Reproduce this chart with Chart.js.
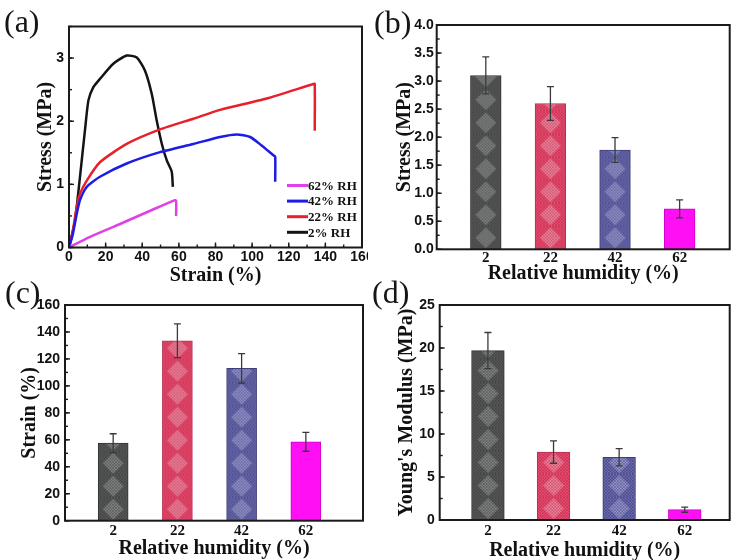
<!DOCTYPE html>
<html>
<head>
<meta charset="utf-8">
<script src="https://cdn.jsdelivr.net/npm/chart.js@4.4.0/dist/chart.umd.min.js"></script>
<style>
  body { margin: 0; background: #fff; }
  #wrap { position: relative; width: 736px; height: 560px; overflow: hidden; background: #fff; }
  .pane { position: absolute; overflow: hidden; }
  .tag { position: absolute; font-family: "Liberation Serif", "Times New Roman", serif; font-size: 32px; color: #151515; line-height: 1; }
</style>
</head>
<body>
<div id="wrap">
  <div class="pane" style="left:0;top:0;width:368px;height:290px"><canvas id="chartA" width="385" height="290"></canvas></div>
  <div class="pane" style="left:368px;top:0;width:368px;height:290px"><canvas id="chartB" width="368" height="290"></canvas></div>
  <div class="pane" style="left:0;top:280px;width:368px;height:290px"><canvas id="chartC" width="368" height="290"></canvas></div>
  <div class="pane" style="left:368px;top:280px;width:368px;height:290px"><canvas id="chartD" width="368" height="290"></canvas></div>
  <span class="tag" style="left:4px;top:5px">(a)</span>
  <span class="tag" style="left:374px;top:6px">(b)</span>
  <span class="tag" style="left:5px;top:276px">(c)</span>
  <span class="tag" style="left:372px;top:276px">(d)</span>
</div>
<script>
'use strict';

// (a) stress-strain curves, one pair of arrays per humidity
const strainRH62 = [0, 10, 30, 45, 57.9, 58.5, 58.5];
const stressRH62 = [0, 0.15, 0.4, 0.59, 0.75, 0.74, 0.5];
const strainRH42 = [0, 2, 4, 6, 9.7, 16.9, 31.5, 49.7, 67.9, 82.5, 91.6, 98.9, 105, 111.6, 112.6, 112.6];
const stressRH42 = [0, 0.2, 0.5, 0.75, 0.96, 1.12, 1.33, 1.51, 1.64, 1.75, 1.79, 1.75, 1.62, 1.46, 1.44, 1.04];
const strainRH22 = [0, 2, 4.2, 6, 9.7, 16.9, 31.5, 49.7, 67.9, 82.5, 108, 133.5, 134.2, 134.2];
const stressRH22 = [0, 0.25, 0.64, 0.85, 1.06, 1.35, 1.64, 1.87, 2.04, 2.18, 2.36, 2.59, 2.59, 1.85];
const strainRH2  = [0, 3.3, 6, 8.7, 10.6, 13.3, 16.9, 24.2, 31.5, 37, 41.5, 45.2, 47.9, 50.7, 53.4, 56.1, 56.7];
const stressRH2  = [0, 0.43, 1.12, 1.85, 2.33, 2.54, 2.67, 2.91, 3.04, 3.01, 2.8, 2.43, 2.01, 1.64, 1.38, 1.2, 0.96];

// (b)(c)(d) bar panels
const humidity    = [2, 22, 42, 62];
const stressMean  = [3.1, 2.6, 1.77, 0.72];
const stressErr   = [0.33, 0.3, 0.22, 0.16];
const strainMean  = [57.5, 133.5, 113, 58.5];
const strainErr   = [7, 12.5, 11, 7];
const modulusMean = [19.7, 7.9, 7.3, 1.2];
const modulusErr  = [2.1, 1.3, 1.0, 0.3];

// tick labels
const strainTicksA  = [0, 20, 40, 60, 80, 100, 120, 140, 160];
const stressTicksA  = [0, 1, 2, 3];
const stressTicksB  = [0, 0.5, 1, 1.5, 2, 2.5, 3, 3.5, 4];
const strainTicksC  = [0, 20, 40, 60, 80, 100, 120, 140, 160];
const modulusTicksD = [0, 5, 10, 15, 20, 25];

const SANS = "'Liberation Sans', Arial, sans-serif";
const SERIF = "'Liberation Serif', 'Times New Roman', serif";

function pairs(xs, ys) {
  return xs.map((x, i) => ({ x: x, y: ys[i] }));
}

// box with inward ticks, drawn like the original plot frame
const frame = {
  id: 'frame',
  afterDraw(chart, args, o) {
    const { ctx, chartArea: a, scales } = chart;
    ctx.save();
    ctx.strokeStyle = '#1a1a1a';
    ctx.lineWidth = 1.4;
    const mark = (s, v, len) => {
      const p = s.getPixelForValue(v);
      ctx.beginPath();
      if (s.axis === 'x') { ctx.moveTo(p, a.bottom); ctx.lineTo(p, a.bottom - len); }
      else { ctx.moveTo(a.left, p); ctx.lineTo(a.left + len, p); }
      ctx.stroke();
    };
    ['x', 'y'].forEach(id => {
      const s = scales[id];
      const step = o[id + 'Minor'];
      if (o[id + 'Major'] !== false) s.ticks.forEach(t => mark(s, t.value, 5));
      if (step) {
        for (let v = s.min; v <= s.max + 1e-9; v += step) mark(s, v, 3);
      }
    });
    ctx.lineWidth = 2;
    ctx.strokeRect(a.left, a.top, a.width, a.height);
    ctx.restore();
  }
};

// key for the curves, lower right of the plot
const curveKey = {
  id: 'curveKey',
  afterDraw(chart) {
    const { ctx, chartArea: a } = chart;
    ctx.save();
    ctx.font = 'bold 13px ' + SERIF;
    ctx.textBaseline = 'middle';
    ctx.fillStyle = '#111';
    chart.data.datasets.forEach((ds, i) => {
      const y = a.bottom - 62 + i * 15.6;
      ctx.strokeStyle = ds.borderColor;
      ctx.lineWidth = 3;
      ctx.beginPath();
      ctx.moveTo(a.right - 75, y);
      ctx.lineTo(a.right - 54, y);
      ctx.stroke();
      ctx.fillText(ds.label, a.right - 54, y + 1);
    });
    ctx.restore();
  }
};

// error bars from the scale pixels
const errBars = {
  id: 'errBars',
  afterDatasetsDraw(chart, args, o) {
    const { ctx } = chart;
    const ys = chart.scales.y;
    const meta = chart.getDatasetMeta(0);
    const vals = chart.data.datasets[0].data;
    ctx.save();
    ctx.strokeStyle = '#3a3a3a';
    ctx.lineWidth = 1.3;
    meta.data.forEach((el, i) => {
      const v = vals[i].y, e = o.err[i];
      const top = ys.getPixelForValue(v + e);
      const bot = ys.getPixelForValue(v - e);
      ctx.beginPath();
      ctx.moveTo(el.x, top); ctx.lineTo(el.x, bot);
      ctx.moveTo(el.x - 3.5, top); ctx.lineTo(el.x + 3.5, top);
      ctx.moveTo(el.x - 3.5, bot); ctx.lineTo(el.x + 3.5, bot);
      ctx.stroke();
    });
    ctx.restore();
  }
};

// keep every hatch pattern anchored to its own bar
const anchorHatch = {
  id: 'anchorHatch',
  beforeDatasetsDraw(chart) {
    const meta = chart.getDatasetMeta(0);
    const fills = chart.data.datasets[0].backgroundColor;
    meta.data.forEach((el, i) => {
      const p = fills[i];
      if (p && typeof p.setTransform === 'function') {
        p.setTransform(new DOMMatrix().translate(el.x - el.width / 2, el.base));
      }
    });
  }
};

function hatch(ctx, base, light, line, w) {
  const c = document.createElement('canvas');
  const h = 23;
  c.width = Math.round(w); c.height = h;
  const g = c.getContext('2d');
  g.fillStyle = base;
  g.fillRect(0, 0, c.width, h);
  const cx = c.width / 2;
  g.beginPath();
  g.moveTo(cx, 1); g.lineTo(cx + 10.5, h / 2); g.lineTo(cx, h - 1); g.lineTo(cx - 10.5, h / 2);
  g.closePath();
  g.fillStyle = light;
  g.fill();
  g.strokeStyle = line;
  g.lineWidth = 0.7;
  for (let k = -40; k < 70; k += 3) {
    g.beginPath(); g.moveTo(k, 0); g.lineTo(k + h, h); g.stroke();
    g.beginPath(); g.moveTo(k, h); g.lineTo(k + h, 0); g.stroke();
  }
  return ctx.createPattern(c, 'repeat');
}

function boxAxes(box) {
  return {
    x: {
      type: 'linear',
      offset: false,
      min: box.xMin, max: box.xMax,
      afterBuildTicks: s => { s.ticks = box.xTicks.map(v => ({ value: v })); },
      afterFit: s => { s.height = box.H - box.B; },
      grid: { display: false, drawTicks: false },
      border: { display: false },
      ticks: {
        padding: box.xTickPad,
        color: '#111',
        maxRotation: 0,
        autoSkip: false,
        font: box.xTickFont,
        callback: v => String(v)
      },
      title: {
        display: true,
        text: box.xTitle,
        color: '#111',
        font: { family: SERIF, size: 20, weight: 'bold' },
        padding: { top: 0, bottom: box.xTitlePad }
      }
    },
    y: {
      type: 'linear',
      min: 0, max: box.yMax,
      afterBuildTicks: s => { s.ticks = box.yTicks.map(v => ({ value: v })); },
      afterFit: s => { s.width = box.L; },
      grid: { display: false, drawTicks: false },
      border: { display: false },
      ticks: {
        padding: box.yTickPad,
        color: '#111',
        autoSkip: false,
        font: { family: SANS, size: 14, weight: 'bold' },
        callback: box.yFmt
      },
      title: {
        display: true,
        text: box.yTitle,
        color: '#111',
        font: { family: SERIF, size: 20, weight: 'bold' },
        padding: { top: box.yTitlePad, bottom: 0 }
      }
    }
  };
}

function layoutOf(box) {
  return { padding: { left: 0, bottom: 0, top: box.T, right: box.W - box.R } };
}

// (a)
const boxA = {
  W: 385, H: 290, L: 69, T: 26.5, R: 362, B: 247.5,
  xMin: 0, xMax: 160, xTicks: strainTicksA, yMax: 3.5, yTicks: stressTicksA,
  xTickPad: 1, yTickPad: 5, xTitlePad: 2.5, yTitlePad: 33.5,
  xTickFont: { family: SANS, size: 14, weight: 'bold' },
  xTitle: 'Strain (%)', yTitle: 'Stress (MPa)',
  yFmt: v => String(v)
};

new Chart(document.getElementById('chartA'), {
  type: 'line',
  data: {
    datasets: [
      { label: '62% RH', data: pairs(strainRH62, stressRH62), borderColor: '#e040e8' },
      { label: '42% RH', data: pairs(strainRH42, stressRH42), borderColor: '#1c1ce6' },
      { label: '22% RH', data: pairs(strainRH22, stressRH22), borderColor: '#e8202c' },
      { label: '2% RH', data: pairs(strainRH2, stressRH2), borderColor: '#141414' }
    ]
  },
  options: {
    responsive: false,
    animation: false,
    layout: layoutOf(boxA),
    elements: {
      line: { borderWidth: 2.5, tension: 0.2, fill: false },
      point: { radius: 0 }
    },
    scales: boxAxes(boxA),
    plugins: {
      legend: { display: false },
      tooltip: { enabled: false },
      frame: { xMinor: 10, yMinor: 0.5 }
    }
  },
  plugins: [frame, curveKey]
});

function barPanel(id, means, errs, box, thick) {
  const canvas = document.getElementById(id);
  const ctx = canvas.getContext('2d');
  const fills = [
    hatch(ctx, '#5a5c5b', '#858887', 'rgba(40,40,40,0.55)', thick),
    hatch(ctx, '#ea4a6c', '#f0809a', 'rgba(150,30,60,0.45)', thick),
    hatch(ctx, '#6b6bae', '#9696cc', 'rgba(40,40,100,0.5)', thick),
    '#ff10f4'
  ];
  new Chart(canvas, {
    type: 'bar',
    data: {
      datasets: [{
        data: pairs(humidity, means),
        backgroundColor: fills,
        borderColor: ['#333', '#b83050', '#3e3e7a', '#d000c8'],
        borderWidth: 1,
        barThickness: thick
      }]
    },
    options: {
      responsive: false,
      animation: false,
      layout: layoutOf(box),
      scales: boxAxes(box),
      plugins: {
        legend: { display: false },
        tooltip: { enabled: false },
        frame: { xMajor: false, yMinor: box.yMinor },
        errBars: { err: errs }
      }
    },
    plugins: [anchorHatch, errBars, frame]
  });
}

const serifTicks = { family: SERIF, size: 15, weight: 'bold' };

// (b)
barPanel('chartB', stressMean, stressErr, {
  W: 368, H: 290, L: 68.7, T: 25, R: 361.7, B: 249.3,
  xMin: -13.2, xMax: 77.5, xTicks: humidity, yMax: 4, yTicks: stressTicksB, yMinor: 0.25,
  xTickPad: 0, yTickPad: 3, xTitlePad: 4, yTitlePad: 24.5,
  xTickFont: serifTicks,
  xTitle: 'Relative humidity (%)', yTitle: 'Stress (MPa)',
  yFmt: v => v.toFixed(1)
}, 30.7);

// (c)
barPanel('chartC', strainMean, strainErr, {
  W: 368, H: 290, L: 65, T: 25, R: 363, B: 240.7,
  xMin: -13, xMax: 79.8, xTicks: humidity, yMax: 160, yTicks: strainTicksC, yMinor: 10,
  xTickPad: 1.5, yTickPad: 5, xTitlePad: 9, yTitlePad: 18,
  xTickFont: serifTicks,
  xTitle: 'Relative humidity (%)', yTitle: 'Strain (%)',
  yFmt: v => String(v)
}, 30);

// (d)
barPanel('chartD', modulusMean, modulusErr, {
  W: 368, H: 290, L: 71.7, T: 25, R: 361.7, B: 240,
  xMin: -12.7, xMax: 75.7, xTicks: humidity, yMax: 25, yTicks: modulusTicksD, yMinor: 2.5,
  xTickPad: 2, yTickPad: 5, xTitlePad: 7.5, yTitlePad: 27,
  xTickFont: serifTicks,
  xTitle: 'Relative humidity (%)', yTitle: "Young's Modulus (MPa)",
  yFmt: v => String(v)
}, 32.7);
</script>
</body>
</html>
